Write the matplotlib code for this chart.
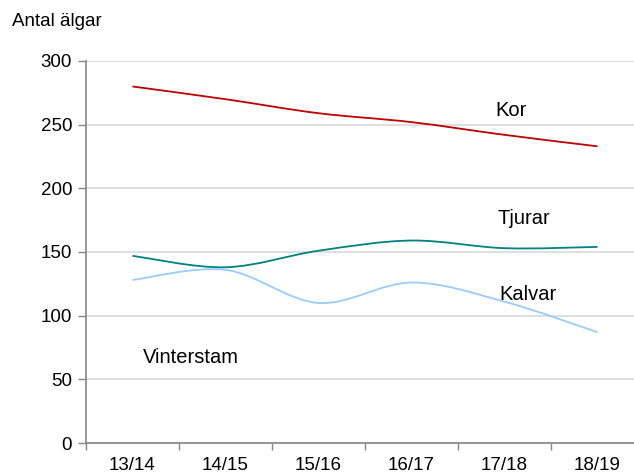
import matplotlib.pyplot as plt
from matplotlib.path import Path
from matplotlib.patches import PathPatch

plt.rcParams['font.family'] = ['Liberation Sans', 'DejaVu Sans']

seasons = ['13/14', '14/15', '15/16', '16/17', '17/18', '18/19']
kor = [280, 270, 259, 252, 242, 233]
tjurar = [147, 138, 151, 159, 153, 154]
kalvar = [128, 136, 110, 126, 111, 87]

C_KOR = '#C00000'
C_TJUR = '#00827F'
C_KALV = '#99CCFF'


def smooth_path(xs, ys):
    # Excel-style smoothed line: cubic Bezier segments with Catmull-Rom control points
    n = len(xs)
    verts = [(xs[0], ys[0])]
    codes = [Path.MOVETO]
    for i in range(n - 1):
        x0, y0 = (xs[i - 1], ys[i - 1]) if i > 0 else (xs[i], ys[i])
        x1, y1 = xs[i], ys[i]
        x2, y2 = xs[i + 1], ys[i + 1]
        x3, y3 = (xs[i + 2], ys[i + 2]) if i + 2 < n else (x2, y2)
        c1 = (x1 + (x2 - x0) / 6, y1 + (y2 - y0) / 6)
        c2 = (x2 - (x3 - x1) / 6, y2 - (y3 - y1) / 6)
        verts += [c1, c2, (x2, y2)]
        codes += [Path.CURVE4] * 3
    return Path(verts, codes)


fig = plt.figure(figsize=(6.34, 4.73), dpi=100)
ax = fig.add_axes([86 / 634, 1 - 443 / 473, 558 / 634, 382 / 473])

xs = list(range(len(seasons)))
for vals, col in [(kor, C_KOR), (tjurar, C_TJUR), (kalvar, C_KALV)]:
    ax.add_patch(PathPatch(smooth_path(xs, vals), facecolor='none',
                           edgecolor=col, lw=1.3, zorder=3))

ax.set_xlim(-0.5, 5.5)
ax.set_ylim(0, 300)
ax.set_yticks(range(0, 301, 50))
ax.set_xticks(xs)
ax.set_xticklabels(seasons)
ax.set_xticks([i - 0.5 for i in range(7)], minor=True)
ax.tick_params(axis='x', which='major', length=0, pad=10, labelsize=13.5)
ax.tick_params(axis='x', which='minor', length=5, color='#868686', width=1)
ax.tick_params(axis='y', length=6, color='#868686', width=1, labelsize=13.5, pad=4)
ax.yaxis.grid(True, color='#D9D9D9', lw=1.2)
ax.set_axisbelow(True)
for s in ['top', 'right']:
    ax.spines[s].set_visible(False)
for s in ['left', 'bottom']:
    ax.spines[s].set_color('#868686')
    ax.spines[s].set_linewidth(1.2)

fig.text(12 / 634, 1 - 22 / 473, 'Antal älgar', fontsize=13.5, va='center', ha='left')
ax.text(3.90, 261.5, 'Kor', fontsize=14.5, va='center', ha='left')
ax.text(3.93, 176.5, 'Tjurar', fontsize=14.5, va='center', ha='left')
ax.text(3.95, 117, 'Kalvar', fontsize=14.5, va='center', ha='left')
ax.text(0.11, 67.5, 'Vinterstam', fontsize=14.5, va='center', ha='left')

fig.savefig('out.png', dpi=100, facecolor='white')
